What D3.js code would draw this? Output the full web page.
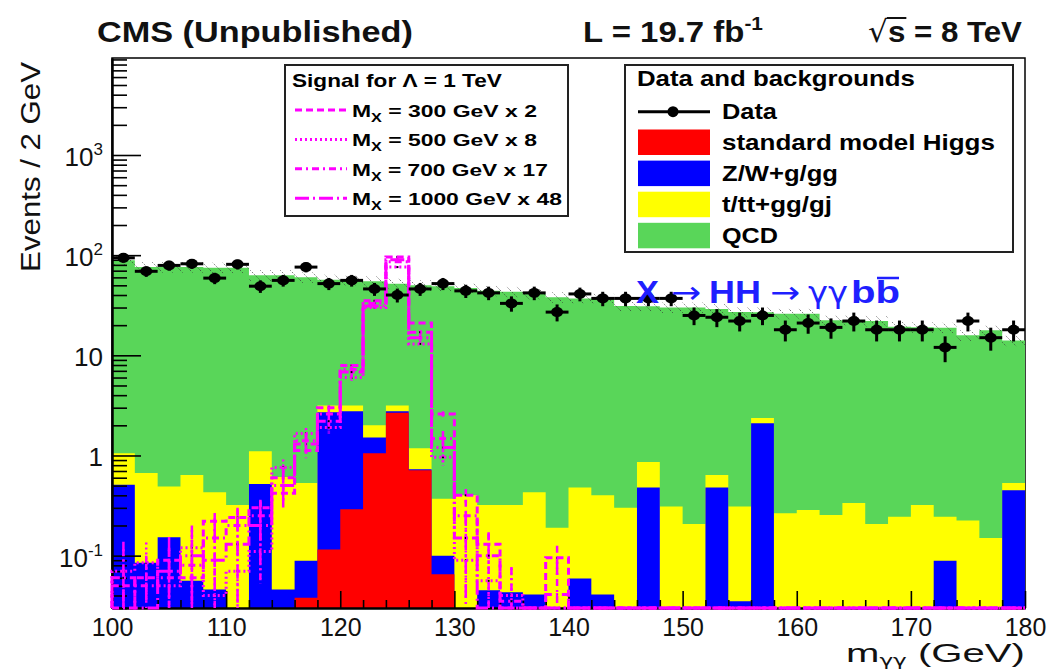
<!DOCTYPE html>
<html>
<head>
<meta charset="utf-8">
<script src="https://cdn.jsdelivr.net/npm/d3@7"></script>
<style>
  body { margin: 0; background: #fff; }
  svg { display: block; }
  text { white-space: pre; }
</style>
</head>
<body>
<svg id="chart" width="1047" height="669"></svg>
<script>
// ── Data (2 GeV bins, 100–180 GeV) ───────────────────────────────────────────
const binEdges = [100, 102, 104, 106, 108, 110, 112, 114, 116, 118, 120, 122, 124, 126, 128, 130,
  132, 134, 136, 138, 140, 142, 144, 146, 148, 150, 152, 154, 156, 158, 160, 162, 164, 166, 168, 170,
  172, 174, 176, 178, 180];

const higgs = [0, 0, 0, 0, 0, 0, 0, 0, 0.038, 0.115, 0.29, 1.05, 2.67, 0.71, 0.065, 0, 0, 0, 0, 0,
  0, 0, 0, 0, 0, 0, 0, 0, 0, 0, 0, 0, 0, 0, 0, 0, 0, 0, 0, 0];
const zwgg = [0.51, 0.085, 0.153, 0.056, 0.046, 0, 0.52, 0.046, 0.051, 2.585, 2.48, 0.46, 0.10, 0.02, 0.035, 0, 0.045, 0.043, 0.041, 0,
  0.059, 0.041, 0, 0.48, 0, 0, 0.48, 0.035, 2.1, 0, 0, 0, 0, 0, 0, 0, 0.089, 0, 0, 0.45];
const ttgj = [0.54, 0.585, 0.337, 0.584, 0.384, 0.32, 0.58, 0.564, 0.441, 0.46, 0.39, 0.49, 0.39, 0.45, 0.27, 0.40, 0.275, 0.277, 0.389, 0.19,
  0.421, 0.359, 0.30, 0.38, 0.31, 0.207, 0.16, 0.275, 0.26, 0.265, 0.285, 0.255, 0.336, 0.207, 0.245, 0.32, 0.156, 0.224, 0.15, 0.08];
const qcd = [88, 75.3, 75.5, 75.4, 74.6, 74.7, 61.9, 62.4, 59.5, 53.8, 52.8, 53, 48.8, 48.8, 48.6, 46.6, 43.7, 42.7, 40.6, 37.8,
  36.5, 36.6, 30.7, 30.1, 29.7, 29.8, 28.4, 26.7, 24.6, 25.7, 25.7, 22.1, 22.1, 21.8, 19.0, 18.7, 18.6, 15.6, 17.6, 13.5];

const dataCounts = [94, 69, 79, 82, 59, 81, 49, 56, 76, 52, 56, 46, 40, 46, 52, 44, 42, 33, 42, 27,
  41, 37, 37, 37, 37, 25, 24, 22, 25, 18, 21, 19, 22, 18, 18, 18, 12, 22, 15, 18];

const sig300 = [0.05, 0.06, 0.09, 0.06, 0.22, 0.24, 0.30, 0.42, 1.12, 3.0, 7.9, 35, 96, 21, 2.6, 0.40, 0.13, 0, 0, 0.095,
  0, 0, 0, 0, 0, 0, 0, 0, 0, 0, 0, 0, 0, 0, 0, 0, 0, 0, 0, 0];
const sig500 = [0.07, 0.085, 0.05, 0.12, 0.04, 0.07, 0.11, 0.76, 1.66, 1.9, 6.0, 30, 76, 13, 0.96, 0.09, 0.056, 0.04, 0, 0,
  0, 0, 0, 0, 0, 0, 0, 0, 0, 0, 0, 0, 0, 0, 0, 0, 0, 0, 0, 0];
const sig700 = [0, 0.05, 0.06, 0.08, 0.15, 0.20, 0.25, 0.60, 1.4, 2.6, 7.2, 33, 86, 17, 1.48, 0.25, 0.10, 0.035, 0, 0.041,
  0, 0, 0, 0, 0, 0, 0, 0, 0, 0, 0, 0, 0, 0, 0, 0, 0, 0, 0, 0];
const sig1000 = [0.06, 0, 0.07, 0.10, 0.09, 0.13, 0.20, 0.50, 1.3, 2.2, 6.8, 31, 90, 15, 1.2, 0.15, 0, 0, 0, 0,
  0, 0, 0, 0, 0, 0, 0, 0, 0, 0, 0, 0, 0, 0, 0, 0, 0, 0, 0, 0];
const sigEventWeight = [0.01, 0.03, 0.05, 0.1];

const signalLabels = ["300 GeV x 2", "500 GeV x 8", "700 GeV x 17", "1000 GeV x 48"];
const bkgLabels = ["standard model Higgs", "Z/W+g/gg", "t/tt+gg/gj", "QCD"];
const xTicks = [100, 110, 120, 130, 140, 150, 160, 170, 180];
const yDecades = [-1, 0, 1, 2, 3];

// ── Setup ───────────────────────────────────────────────────────────────────
const FONT = "'Liberation Sans', Arial, Helvetica, sans-serif";
const SYMBOL = "'DejaVu Sans', sans-serif";
const MAGENTA = "#ff00ff";
const bkgColors = ["#ff0000", "#0000ff", "#ffff00", "#59d659"];
const sigDash = ["7,4", "2,3", "7,4,2,4", "14,4,2,4"];

const svg = d3.select("#chart");
const x = d3.scaleLinear().domain([100, 180]).range([112, 1025]);
const yMin = 0.03, yMax = 9300;
const y = d3.scaleLog().domain([yMin, yMax]).range([608, 58]);
const yv = (v) => y(Math.max(v, yMin));
const [x0, x1] = x.range();
const [yBot, yTop] = y.range();
const nBins = binEdges.length - 1;

svg.append("defs").append("pattern")
  .attr("id", "hatch").attr("patternUnits", "userSpaceOnUse")
  .attr("width", 10).attr("height", 10)
  .append("path").attr("d", "M0,0L10,10")
  .attr("stroke", "#333").attr("stroke-width", 0.7).attr("stroke-dasharray", "1.5,1.5");

// frame first: histograms cover the right side below their top
svg.append("rect")
  .attr("x", x0).attr("y", yTop).attr("width", x1 - x0).attr("height", yBot - yTop)
  .attr("fill", "none").attr("stroke", "#000").attr("stroke-width", 1.5);

function stepPath(vals) {
  let p = `M${x0},${yBot}`;
  vals.forEach((v, i) => {
    p += `L${x(binEdges[i])},${yv(v)}L${x(binEdges[i + 1])},${yv(v)}`;
  });
  return p + `L${x1},${yBot}`;
}

// ── Stacked backgrounds ─────────────────────────────────────────────────────
const comps = [higgs, zwgg, ttgj, qcd];
const cumul = [];
let run = new Array(nBins).fill(0);
for (const c of comps) {
  run = run.map((v, i) => v + c[i]);
  cumul.push(run.slice());
}
for (let k = cumul.length - 1; k >= 0; k--) {
  svg.append("path").attr("d", stepPath(cumul[k]) + "Z").attr("fill", bkgColors[k]);
}
const total = cumul[cumul.length - 1];

// stat band on total background
svg.append("g").selectAll("rect").data(total).join("rect")
  .attr("x", (d, i) => x(binEdges[i]))
  .attr("width", (d, i) => x(binEdges[i + 1]) - x(binEdges[i]))
  .attr("y", (d) => yv(d * 1.12))
  .attr("height", (d) => yv(d * 0.88) - yv(d * 1.12))
  .attr("fill", "url(#hatch)");

// ── Axes ────────────────────────────────────────────────────────────────────
const minorX = binEdges.filter((e) => e % 10 !== 0);
const gxMinor = svg.append("g").attr("transform", `translate(0,${yBot})`)
  .call(d3.axisBottom(x).tickValues(minorX).tickSize(-8).tickSizeOuter(0).tickFormat(""));
const gx = svg.append("g").attr("transform", `translate(0,${yBot})`)
  .call(d3.axisBottom(x).tickValues(xTicks).tickSize(-17).tickSizeOuter(0).tickPadding(10).tickFormat(d3.format("d")));
gx.selectAll("text").attr("font-family", FONT).attr("font-size", 25).attr("fill", "#111");

const minorY = [];
for (let e = -2; e <= 3; e++) {
  for (let k = 2; k <= 9; k++) {
    const v = k * Math.pow(10, e);
    if (v >= yMin && v <= yMax) minorY.push(v);
  }
}
const gyMinor = svg.append("g").attr("transform", `translate(${x0},0)`)
  .call(d3.axisLeft(y).tickValues(minorY).tickSize(-15).tickSizeOuter(0).tickFormat(""));
const gy = svg.append("g").attr("transform", `translate(${x0},0)`)
  .call(d3.axisLeft(y).tickValues(yDecades.map((e) => Math.pow(10, e))).tickSize(-29).tickSizeOuter(0).tickFormat(""));
[gxMinor, gx, gyMinor, gy].forEach((g) => {
  g.selectAll("line").attr("stroke-width", 1.6);
  g.select(".domain").attr("stroke-width", 2);
});

for (const e of yDecades) {
  const t = svg.append("text")
    .attr("x", 103).attr("y", y(Math.pow(10, e)) + 11)
    .attr("text-anchor", "end").attr("font-family", FONT).attr("font-size", 26).attr("fill", "#111");
  if (e === 0) t.text("1");
  else if (e === 1) t.text("10");
  else {
    t.append("tspan").text("10");
    t.append("tspan").attr("font-size", 17).attr("dy", -11).text(String(e));
  }
}

// ── Signal histograms ───────────────────────────────────────────────────────
const signals = [sig300, sig500, sig700, sig1000];
signals.forEach((s, k) => {
  const g = svg.append("g");
  s.forEach((v, i) => {
    if (v <= 0) return;
    const err = Math.sqrt(v * sigEventWeight[k]);
    const cx = x((binEdges[i] + binEdges[i + 1]) / 2);
    g.append("line")
      .attr("x1", cx).attr("x2", cx).attr("y1", yv(v + err)).attr("y2", yv(v - err))
      .attr("stroke", MAGENTA).attr("stroke-width", 2.5).attr("stroke-dasharray", sigDash[k]);
    g.append("rect").attr("x", cx - 1).attr("y", yv(v) - 1).attr("width", 2).attr("height", 2).attr("fill", "#000");
  });
  g.append("path").attr("d", stepPath(s))
    .attr("fill", "none").attr("stroke", MAGENTA).attr("stroke-width", 3)
    .attr("stroke-dasharray", sigDash[k]);
});

// ── Data points ─────────────────────────────────────────────────────────────
const gd = svg.append("g");
dataCounts.forEach((n, i) => {
  const cx = x((binEdges[i] + binEdges[i + 1]) / 2);
  const err = Math.sqrt(n);
  gd.append("line").attr("x1", x(binEdges[i])).attr("x2", x(binEdges[i + 1]))
    .attr("y1", yv(n)).attr("y2", yv(n)).attr("stroke", "#000").attr("stroke-width", 3);
  gd.append("line").attr("x1", cx).attr("x2", cx)
    .attr("y1", yv(n + err)).attr("y2", yv(n - err)).attr("stroke", "#000").attr("stroke-width", 3);
  gd.append("ellipse").attr("cx", cx).attr("cy", yv(n)).attr("rx", 6).attr("ry", 5).attr("fill", "#000");
});

// ── Text helpers ────────────────────────────────────────────────────────────
function addText(parent, left, base, width, size, weight, fill, build) {
  const g = parent.append("g");
  const t = g.append("text").attr("x", 0).attr("y", base)
    .attr("font-family", FONT).attr("font-size", size).attr("font-weight", weight).attr("fill", fill);
  build(t);
  const w = t.node().getComputedTextLength();
  g.attr("transform", `translate(${left},0) scale(${width / w},1)`);
  return { g, t };
}

// process label, piece by piece
{
  const blue = "#1f1fff";
  const base = 303;
  const pieces = [
    { s: "X", x: 636, w: 23, font: FONT, bold: true },
    { s: "\u2192", x: 671, w: 30, font: SYMBOL, bold: false },
    { s: "HH", x: 709, w: 52, font: FONT, bold: true },
    { s: "\u2192", x: 770, w: 30, font: SYMBOL, bold: false },
    { s: "\u03b3\u03b3", x: 808, w: 40, font: SYMBOL, bold: false },
    { s: "bb", x: 851, w: 49, font: FONT, bold: true },
  ];
  for (const p of pieces) {
    addText(svg, p.x, base, p.w, 31, p.bold ? "bold" : "normal", blue, (t) => t.attr("font-family", p.font).text(p.s));
  }
  svg.append("line").attr("x1", 877).attr("x2", 899).attr("y1", base - 25).attr("y2", base - 25)
    .attr("stroke", blue).attr("stroke-width", 2.5);
}

// ── Legends ─────────────────────────────────────────────────────────────────
const leg1 = svg.append("g");
leg1.append("rect").attr("x", 285).attr("y", 65).attr("width", 283).attr("height", 151)
  .attr("fill", "#fff").attr("stroke", "#222").attr("stroke-width", 2);
addText(leg1, 292, 87, 210, 18, "bold", "#000", (t) => t.text("Signal for \u039b = 1 TeV"));
const sigWidths = [185, 185, 196, 210];
signalLabels.forEach((lab, k) => {
  const base = 117 + k * 29.4;
  leg1.append("line").attr("x1", 295).attr("x2", 347).attr("y1", base - 7).attr("y2", base - 7)
    .attr("stroke", MAGENTA).attr("stroke-width", 3).attr("stroke-dasharray", sigDash[k]);
  addText(leg1, 352, base, sigWidths[k], 17, "bold", "#000", (t) => {
    t.append("tspan").text("M");
    t.append("tspan").attr("font-size", 12).attr("dy", 5).text("X");
    t.append("tspan").attr("dy", -5).text(" = " + lab);
  });
});

const leg2 = svg.append("g");
leg2.append("rect").attr("x", 625).attr("y", 65).attr("width", 388).attr("height", 187)
  .attr("fill", "#fff").attr("stroke", "#222").attr("stroke-width", 2);
addText(leg2, 637, 86.5, 278, 22, "bold", "#000", (t) => t.text("Data and backgrounds"));
leg2.append("line").attr("x1", 638).attr("x2", 710).attr("y1", 111.7).attr("y2", 111.7)
  .attr("stroke", "#000").attr("stroke-width", 3);
leg2.append("circle").attr("cx", 673).attr("cy", 111.7).attr("r", 5.5).attr("fill", "#000");
addText(leg2, 722, 119.5, 55, 22, "bold", "#000", (t) => t.text("Data"));
const bkgWidths = [273, 116, 110, 56];
bkgLabels.forEach((lab, k) => {
  const top = 129.5 + k * 31.1;
  leg2.append("rect").attr("x", 638).attr("y", top).attr("width", 72).attr("height", 25.5)
    .attr("fill", bkgColors[k]);
  addText(leg2, 722, top + 20.5, bkgWidths[k], 22, "bold", "#000", (t) => t.text(lab));
});

// ── Header and axis titles ──────────────────────────────────────────────────
addText(svg, 97, 42, 316, 30, "bold", "#111", (t) => t.text("CMS (Unpublished)"));
addText(svg, 583, 42, 180, 30, "bold", "#111", (t) => {
  t.append("tspan").text("L = 19.7 fb");
  t.append("tspan").attr("font-size", 19).attr("dy", -12).text("-1");
});
{
  const size = 30;
  const { g, t } = addText(svg, 868, 42, 154, size, "bold", "#111", (t) => {
    t.append("tspan").attr("font-family", SYMBOL).attr("font-weight", "normal").text("\u221a");
    t.append("tspan").text("s = 8 TeV");
  });
  const a = t.node().getEndPositionOfChar(0).x - 1, b = t.node().getEndPositionOfChar(1).x + 1;
  g.append("line").attr("x1", a).attr("x2", b).attr("y1", 42 - size * 0.8).attr("y2", 42 - size * 0.8)
    .attr("stroke", "#111").attr("stroke-width", 2);
}

addText(svg, 846, 662, 179, 26, "normal", "#111", (t) => {
  t.append("tspan").text("m");
  t.append("tspan").attr("font-family", SYMBOL).attr("font-size", 15).attr("dy", 4).text("\u03b3\u03b3");
  t.append("tspan").attr("dy", -4).text(" (GeV)");
});

{
  const g = svg.append("g");
  const t = g.append("text").attr("x", 0).attr("y", 0).attr("text-anchor", "end")
    .attr("font-family", FONT).attr("font-size", 28).attr("fill", "#111").text("Events / 2 GeV");
  const w = t.node().getComputedTextLength();
  g.attr("transform", `translate(40,62) rotate(-90) scale(${210 / w},1)`);
}
</script>
</body>
</html>
